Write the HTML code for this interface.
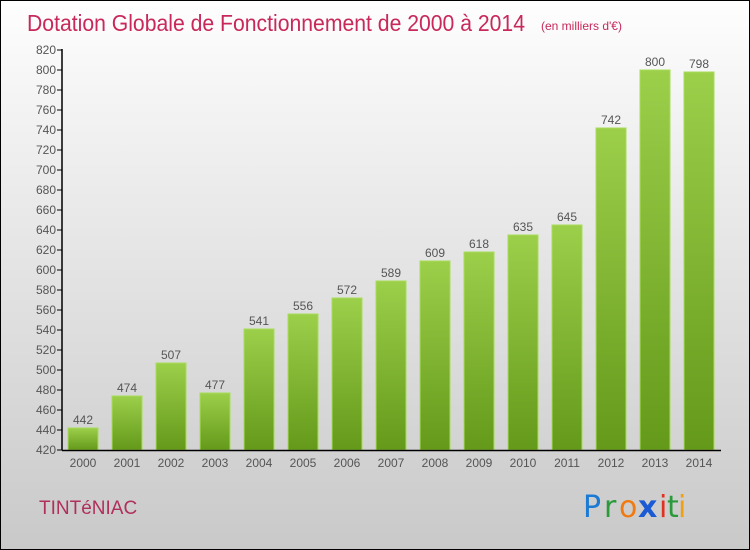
<!DOCTYPE html>
<html><head><meta charset="utf-8"><style>
body{margin:0;}
#c{width:748px;height:548px;border:1px solid #000;background:linear-gradient(#fefefe,#f0f0f0 25%,#c9c9c9);position:relative;overflow:hidden;font-family:"Liberation Sans",sans-serif;}
</style></head><body>
<div id="c">
<svg width="748" height="548" id="svg">
<defs><linearGradient id="g" x1="0" y1="0" x2="0" y2="1"><stop offset="0" stop-color="#9ccf4a"/><stop offset="1" stop-color="#64991a"/></linearGradient></defs>
<text x="26" y="30" font-size="23" fill="#c8285a" textLength="498" lengthAdjust="spacingAndGlyphs">Dotation Globale de Fonctionnement de 2000 à 2014</text>
<text x="540" y="29" font-size="12" fill="#c8285a">(en milliers d'€)</text>
<text x="38" y="513" font-size="19" fill="#b0305a">TINTéNIAC</text>
<g font-size="30" font-family="'DejaVu Sans',sans-serif">
<text x="582" y="516" fill="#1a7ad4">P</text><text x="603" y="516" fill="#2a9a3a">r</text><text x="618" y="516" fill="#f07a10">o</text><text x="637" y="516" fill="#1a5ad4" font-weight="bold">x</text><text x="658" y="516" fill="#e03020">i</text><text x="666" y="516" fill="#2a9a3a">t</text><text x="677" y="516" fill="#f0a010">i</text>
</g>
<g id="plot"></g>
</svg>
</div>
<script>
const years=["2000","2001","2002","2003","2004","2005","2006","2007","2008","2009","2010","2011","2012","2013","2014"];
const values=[442,474,507,477,541,556,572,589,609,618,635,645,742,800,798];
const yTicks=[420,440,460,480,500,520,540,560,580,600,620,640,660,680,700,720,740,760,780,800,820];
const NS="http://www.w3.org/2000/svg";
const g=document.getElementById('plot');
const y=v=>449-(v-420)*1.0;
const x=i=>67+i*44;
function el(t,a,p){const e=document.createElementNS(NS,t);for(const k in a)e.setAttribute(k,a[k]);(p||g).appendChild(e);return e;}
yTicks.forEach(t=>{
 const l=el('line',{x1:56,x2:61,y1:y(t),y2:y(t),stroke:'#000'});
 
 
 const tx=el('text',{x:55,y:y(t)+4,'text-anchor':'end','font-size':12,fill:'#555'});
 tx.textContent=t;
 
 
});
values.forEach((v,i)=>{
 const r=el('rect',{x:x(i),y:y(v),width:30,height:y(420)-y(v),fill:'url(#g)',stroke:'#a8dc5a','stroke-width':1});
 
 
 const vl=el('text',{x:x(i)+15,y:y(v)-4,'text-anchor':'middle','font-size':12,fill:'#555'});
 vl.textContent=v;
 
 
 const xl=el('text',{x:x(i)+15,y:466,'text-anchor':'middle','font-size':12,fill:'#555'});
 xl.textContent=years[i];
 
 
});
const ya=el('line',{x1:61,x2:61,y1:y(820)-1,y2:y(420),stroke:'#000','stroke-width':1.5});


const xa=el('line',{x1:61,x2:720,y1:y(420)+0.5,y2:y(420)+0.5,stroke:'#000','stroke-width':1.5});


</script>
</body></html>
